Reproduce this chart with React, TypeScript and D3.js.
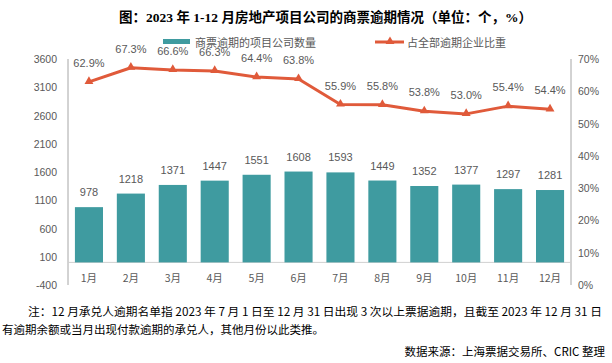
import React from "react";
import * as d3 from "d3";

const months = ["1月", "2月", "3月", "4月", "5月", "6月", "7月", "8月", "9月", "10月", "11月", "12月"];
const overdueCounts = [978, 1218, 1371, 1447, 1551, 1608, 1593, 1449, 1352, 1377, 1297, 1281];
const overdueShare = [62.9, 67.3, 66.6, 66.3, 64.4, 63.8, 55.9, 55.8, 53.8, 53.0, 55.4, 54.4];
const leftTicks = [-400, 100, 600, 1100, 1600, 2100, 2600, 3100, 3600];
const rightTicks = [0, 10, 20, 30, 40, 50, 60, 70];

const BAR_COLOUR = "#3f9ba0";
const LINE_COLOUR = "#e05a3a";
const TEXT_GREY = "#595959";
const AXIS_GREY = "#a6a6a6";
const FONT = "'Liberation Sans', 'Noto Sans CJK SC', sans-serif";
const CJK = "'Noto Sans CJK SC', sans-serif";

const LEFT = 68;
const RIGHT = 571;
const TOP = 59;
const BOTTOM = 285;

const App = () => {
  const x = d3.scaleBand<string>().domain(months).range([LEFT, RIGHT]).paddingInner(0.33).paddingOuter(0.165);
  const yLeft = d3.scaleLinear().domain([-400, 3600]).range([BOTTOM, TOP]);
  const yRight = d3.scaleLinear().domain([0, 70]).range([BOTTOM, TOP]);
  const cx = (m: string) => (x(m) as number) + x.bandwidth() / 2;

  const line = d3.line<number>()
    .x((_, i) => cx(months[i]))
    .y((d) => yRight(d));

  const tri = d3.symbol().type(d3.symbolTriangle).size(34)();

  return (
    <svg width={612} height={363} style={{ display: "block", position: "absolute", left: 0, top: 0, background: "#fff" }}>
      {/* title */}
      <text x={119} y={22} fontSize={13.5} fontWeight="bold" fill="#000"
        fontFamily="'Liberation Serif', 'Noto Sans CJK SC', serif" textLength={413} lengthAdjust="spacingAndGlyphs">
        图：2023 年 1-12 月房地产项目公司的商票逾期情况（单位：个，%）
      </text>

      {/* legend */}
      <rect x={163} y={39} width={27} height={5} fill={BAR_COLOUR} />
      <text x={195} y={42} fontSize={11} fill={TEXT_GREY} fontFamily={CJK} dominantBaseline="central">商票逾期的项目公司数量</text>
      <line x1={375} x2={404} y1={42} y2={42} stroke={LINE_COLOUR} strokeWidth={3} />
      <path d={tri as string} transform="translate(390,41.5)" fill={LINE_COLOUR} />
      <text x={407} y={42} fontSize={11} fill={TEXT_GREY} fontFamily={CJK} dominantBaseline="central">占全部逾期企业比重</text>

      {/* axes */}
      <line x1={LEFT} x2={LEFT} y1={TOP} y2={BOTTOM} stroke={AXIS_GREY} strokeWidth={1} />
      <line x1={RIGHT} x2={RIGHT} y1={TOP} y2={BOTTOM} stroke={AXIS_GREY} strokeWidth={1} />
      <line x1={LEFT} x2={RIGHT} y1={yLeft(0)} y2={yLeft(0)} stroke="#d0d0d0" strokeWidth={1} />

      {leftTicks.map((t) => (
        <text key={t} x={57} y={yLeft(t)} fontSize={10.5} fill={TEXT_GREY} fontFamily={FONT}
          textAnchor="end" dominantBaseline="central">{t}</text>
      ))}
      {rightTicks.map((t) => (
        <text key={t} x={578} y={yRight(t)} fontSize={10.5} fill={TEXT_GREY} fontFamily={FONT}
          dominantBaseline="central">{t}%</text>
      ))}

      {/* bars */}
      {overdueCounts.map((v, i) => (
        <g key={months[i]}>
          <rect x={x(months[i])} y={yLeft(v)} width={x.bandwidth()} height={yLeft(0) - yLeft(v)} fill={BAR_COLOUR} />
          <text x={cx(months[i])} y={yLeft(v) - 15} fontSize={11} fill={TEXT_GREY} fontFamily={FONT}
            textAnchor="middle" dominantBaseline="central">{v}</text>
          <text x={cx(months[i])} y={277} fontSize={10.5} fill={TEXT_GREY} fontFamily={CJK}
            textAnchor="middle" dominantBaseline="central">{months[i]}</text>
        </g>
      ))}

      {/* share line */}
      <path d={line(overdueShare) as string} fill="none" stroke={LINE_COLOUR} strokeWidth={3} strokeLinejoin="round" />
      {overdueShare.map((v, i) => (
        <g key={"p" + i}>
          <path d={tri as string} transform={`translate(${cx(months[i])},${yRight(v) - 0.5})`} fill={LINE_COLOUR} />
          <text x={cx(months[i])} y={yRight(v) - 19} fontSize={11} fill={TEXT_GREY} fontFamily={FONT}
            textAnchor="middle" dominantBaseline="central">{v.toFixed(1)}%</text>
        </g>
      ))}

      {/* notes */}
      <text x={28} y={311} fontSize={11.5} fill="#000" fontFamily={CJK} dominantBaseline="central"
        textLength={574} lengthAdjust="spacingAndGlyphs">
        注：12 月承兑人逾期名单指 2023 年 7 月 1 日至 12 月 31 日出现 3 次以上票据逾期，且截至 2023 年 12 月 31 日
      </text>
      <text x={2} y={329} fontSize={11.5} fill="#000" fontFamily={CJK} dominantBaseline="central">
        有逾期余额或当月出现付款逾期的承兑人，其他月份以此类推。
      </text>
      <text x={605} y={351} fontSize={11.5} fill="#000" fontFamily={CJK} dominantBaseline="central" textAnchor="end">
        数据来源：上海票据交易所、CRIC 整理
      </text>
    </svg>
  );
};

export default App;
